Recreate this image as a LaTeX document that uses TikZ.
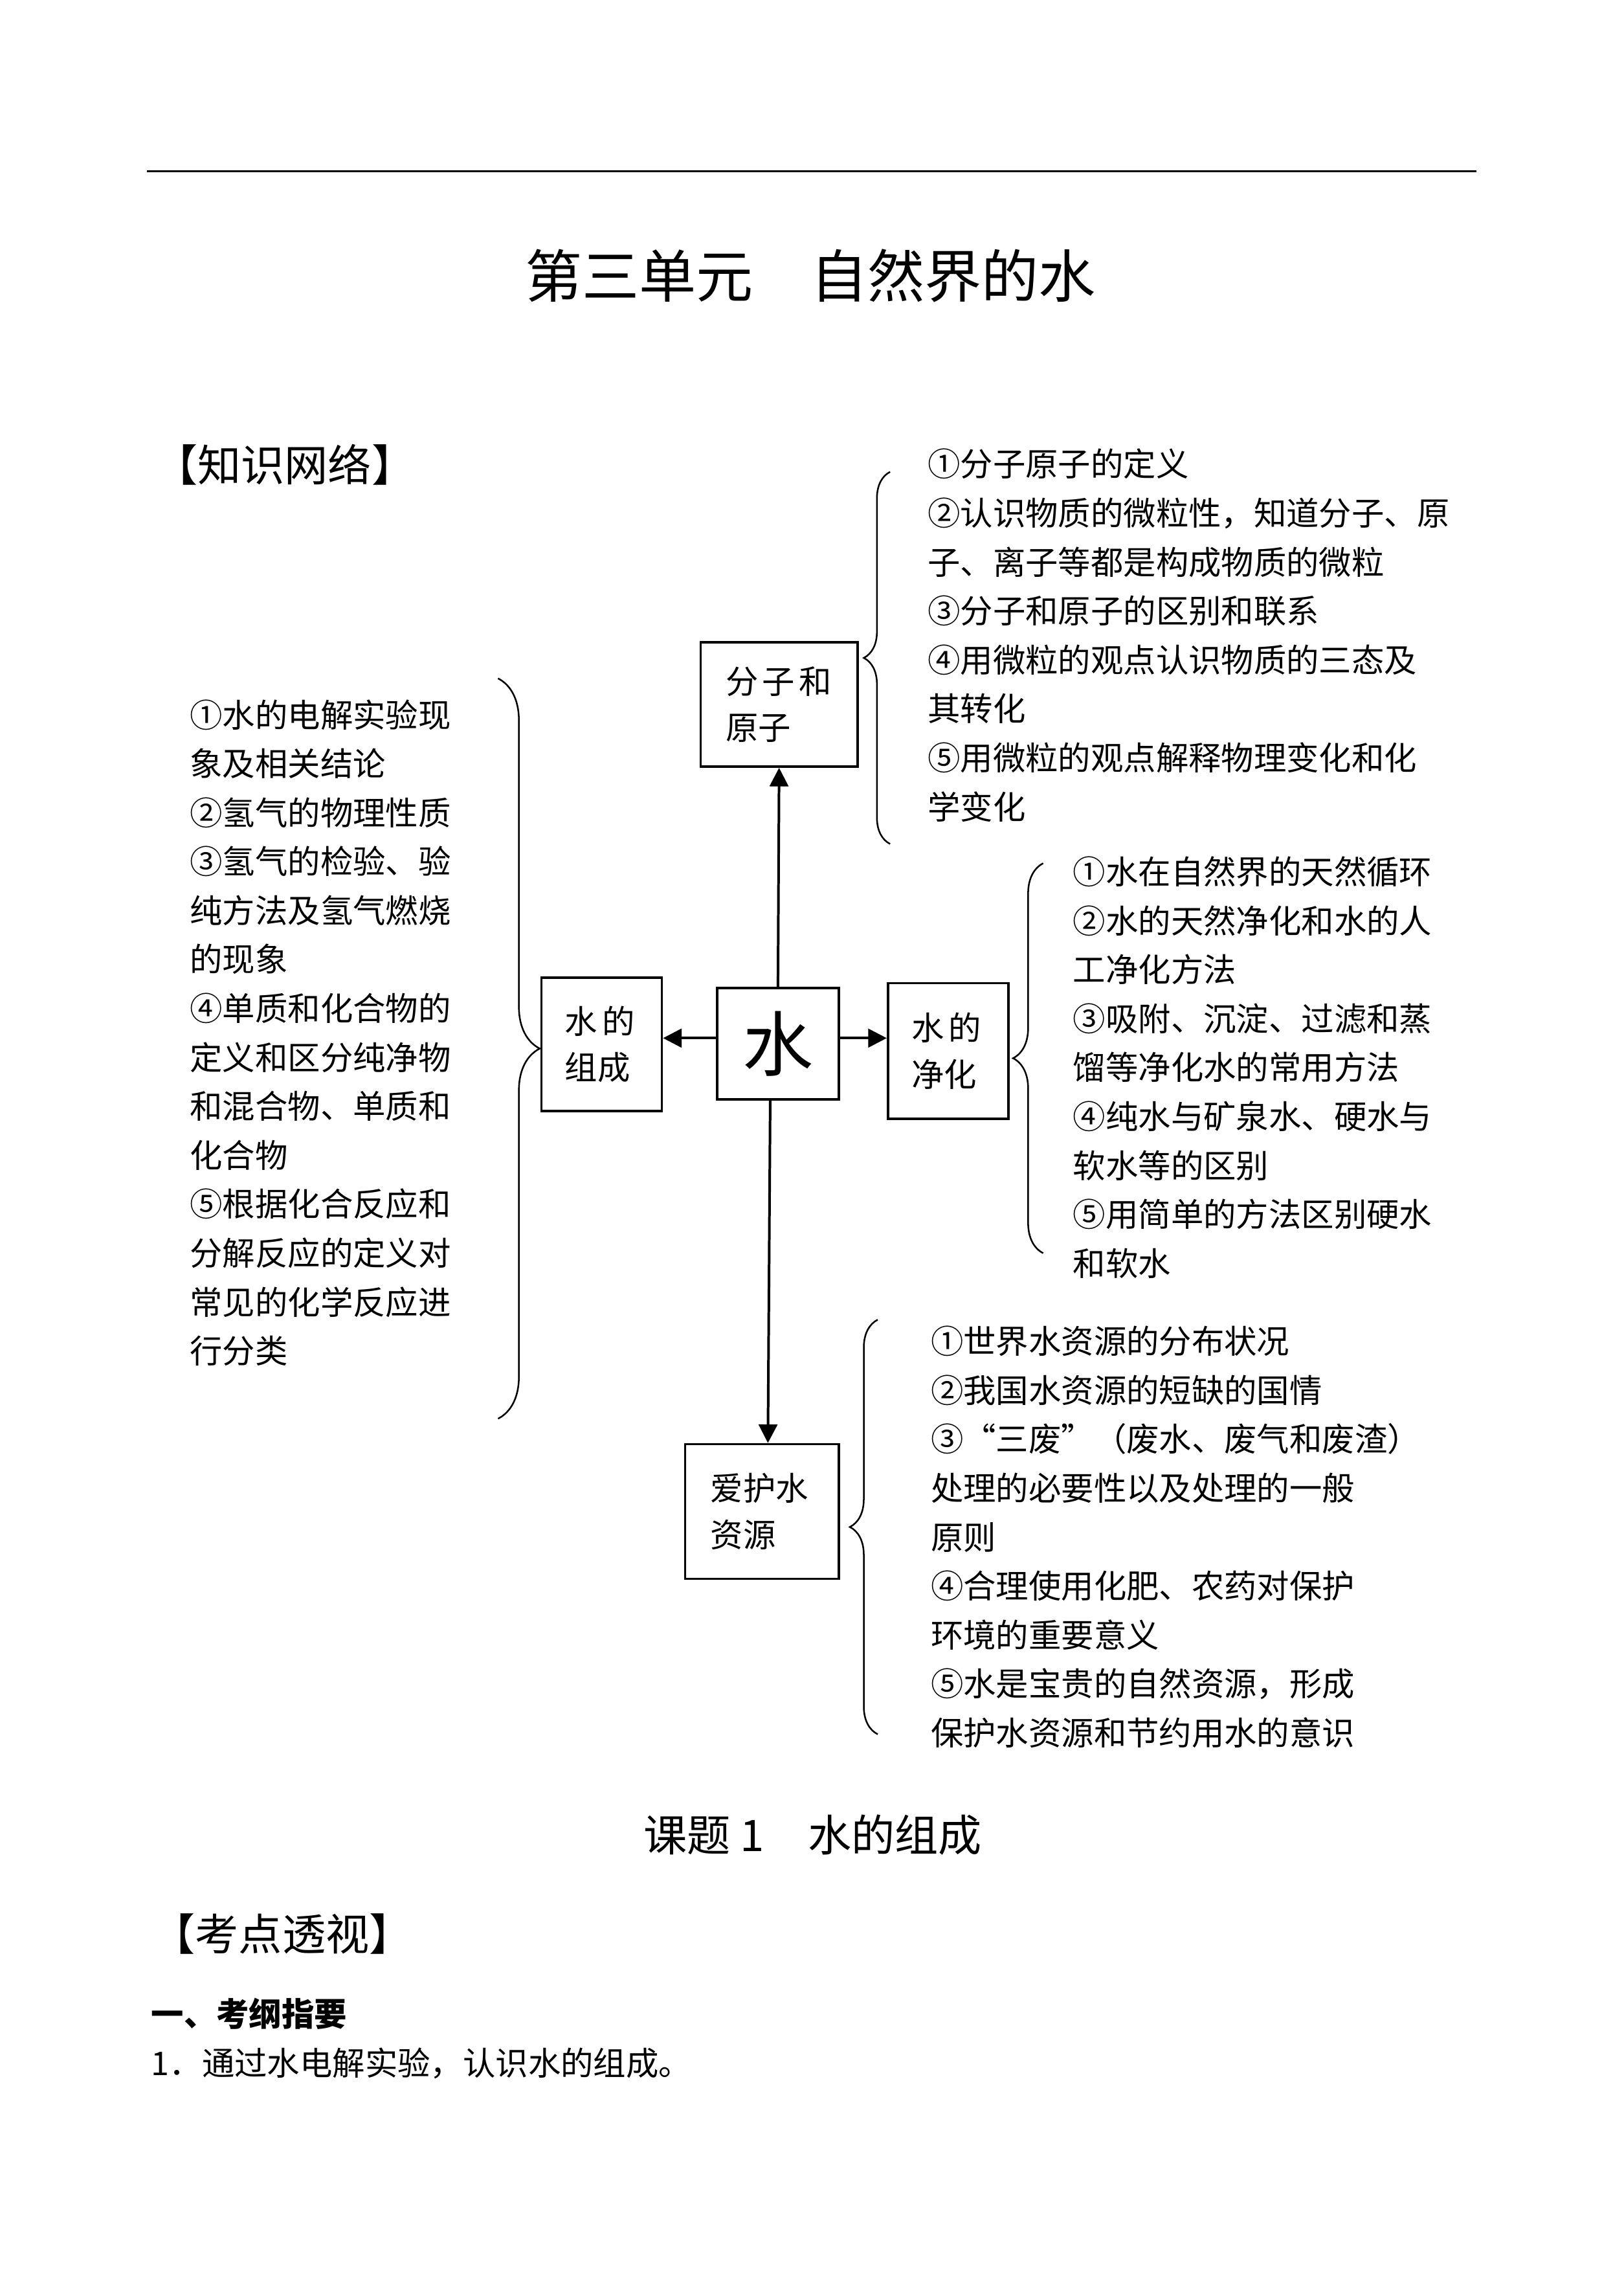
\documentclass[tikz,border=0pt]{standalone}
\usepackage{fontspec}
\setmainfont{Noto Sans CJK SC}
\usepackage{tikz}
\usetikzlibrary{shapes, arrows.meta, positioning, decorations.pathreplacing}

\begin{document}
\begin{tikzpicture}
  [
    Box/.style={rectangle, draw=black, line width=0.9pt, inner sep=0pt, align=left, font=\fontsize{12pt}{17pt}\selectfont},
    Core/.style={rectangle, draw=black, line width=0.9pt, minimum width=1.57cm, minimum height=1.44cm, inner sep=0pt, font=\fontsize{26pt}{30pt}\selectfont},
    List/.style={anchor=base west, inner sep=0pt, align=left, font=\fontsize{12pt}{18pt}\selectfont},
    Head/.style={inner sep=0pt, font=\fontsize{16pt}{18pt}\selectfont},
    Brace/.style={decorate, decoration={brace, amplitude=#1}, line width=0.6pt},
    Line/.style={line width=0.95pt},
    >={Triangle[length=2.4mm, width=2.4mm]}
  ]
  \path [fill=white] (0, 0) rectangle (21, -29.63);
  % Page head
  \draw [line width=0.7pt] (1.90, -2.21) -- (19.09, -2.21);
  \node[Head, font=\fontsize{21pt}{24pt}\selectfont] (title) at(10.48, -3.565) {第三单元　自然界的水};
  \node[Head] (net) at(3.68, -6.01) {【知识网络】};
  % Nodes
  \node[Core] (water) at(10.06, -13.49) {水};
  \node[Box, minimum width=2.03cm, minimum height=1.61cm, text width=1.38cm] (mol) at(10.075, -9.105) {分\kern0.12em 子\kern0.12em 和\\原子};
  \node[Box, minimum width=1.556cm, minimum height=1.72cm, text width=0.95cm] (comp) at(7.78, -13.50) {水\kern0.15em 的\\组成};
  \node[Box, minimum width=1.555cm, minimum height=1.75cm, text width=0.95cm] (puri) at(12.26, -13.585) {水\kern0.15em 的\\净化};
  \node[Box, minimum width=1.99cm, minimum height=1.74cm, text width=1.33cm] (care) at(9.855, -19.54) {爱护水\\资源};
  % Lists
  \node[List, text width=7cm] (molList) at(11.99, -6.16) {①分子原子的定义\\②认识物质的微粒性，知道分子、原\\子、离子等都是构成物质的微粒\\③分子和原子的区别和联系\\④用微粒的观点认识物质的三态及\\其转化\\⑤用微粒的观点解释物理变化和化\\学变化};
  \node[List, text width=3.8cm] (compList) at(2.45, -9.40) {①水的电解实验现\\象及相关结论\\②氢气的物理性质\\③氢气的检验、验\\纯方法及氢气燃烧\\的现象\\④单质和化合物的\\定义和区分纯净物\\和混合物、单质和\\化合物\\⑤根据化合反应和\\分解反应的定义对\\常见的化学反应进\\行分类};
  \node[List, text width=5.5cm] (puriList) at(13.87, -11.43) {①水在自然界的天然循环\\②水的天然净化和水的人\\工净化方法\\③吸附、沉淀、过滤和蒸\\馏等净化水的常用方法\\④纯水与矿泉水、硬水与\\软水等的区别\\⑤用简单的方法区别硬水\\和软水};
  \node[List, text width=7cm] (careList) at(12.03, -17.50) {①世界水资源的分布状况\\②我国水资源的短缺的国情\\③“三废”（废水、废气和废渣）\\处理的必要性以及处理的一般\\原则\\④合理使用化肥、农药对保护\\环境的重要意义\\⑤水是宝贵的自然资源，形成\\保护水资源和节约用水的意识};
  % Braces
  \draw [Brace=0.54cm] (6.44, -8.77) -- (6.44, -18.34);
  \draw [Brace=0.34cm] (11.51, -10.91) -- (11.51, -6.10);
  \draw [Brace=0.39cm] (13.49, -16.20) -- (13.49, -11.16);
  \draw [Brace=0.36cm] (11.35, -22.42) -- (11.35, -17.06);
  % Lines
  \path [->, draw, Line] (water.north) -- (mol.south);
  \path [->, draw, Line] ([yshift=0.07cm]water.west) -- ([yshift=0.07cm]water.west -| comp.east);
  \path [->, draw, Line] ([yshift=0.07cm]water.east) -- ([yshift=0.07cm]water.east -| puri.west);
  \path [->, draw, Line] ([xshift=-0.1cm]water.south) -- ([xshift=0.075cm]care.north);
  % Lesson
  \node[Head] (lesson) at(10.51, -23.72) {课题 1　水的组成};
  \node[Head] (view) at(3.65, -25.0) {【考点透视】};
  \node[anchor=west, inner sep=0pt, font=\bfseries\fontsize{12pt}{14pt}\selectfont] (outline) at(1.95, -26.03) {一、考纲指要};
  \node[anchor=west, inner sep=0pt, font=\fontsize{12pt}{14pt}\selectfont] (goal) at(1.95, -26.67) {1．通过水电解实验，认识水的组成。};
\end{tikzpicture}
\end{document}
